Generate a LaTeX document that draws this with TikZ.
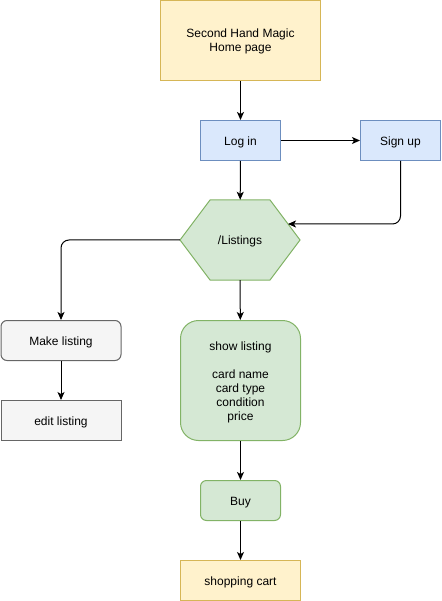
\documentclass[tikz,border=0pt]{standalone}
\usepackage{fontspec}
\setmainfont{Liberation Sans}
\usetikzlibrary{arrows.meta}
\definecolor{yfill}{HTML}{FFF2CC}\definecolor{ydraw}{HTML}{D6B656}
\definecolor{bfill}{HTML}{DAE8FC}\definecolor{bdraw}{HTML}{6C8EBF}
\definecolor{gfill}{HTML}{D5E8D4}\definecolor{gdraw}{HTML}{82B366}
\definecolor{wfill}{HTML}{F5F5F5}\definecolor{wdraw}{HTML}{666666}
\begin{document}
\begin{tikzpicture}[x=1pt,y=-1pt,
  every node/.style={font=\fontsize{12}{14}\selectfont, align=center, inner sep=0pt},
  single/.style={text height=12pt},
  box/.style={draw, line width=1pt, minimum width=#1, anchor=north west},
  yellowbox/.style={box=#1, fill=yfill, draw=ydraw},
  bluebox/.style={box=#1, fill=bfill, draw=bdraw, single},
  greenbox/.style={box=#1, fill=gfill, draw=gdraw},
  graybox/.style={box=#1, fill=wfill, draw=wdraw, single},
  conn/.style={draw=black, line width=1pt, -{Stealth[length=8pt,width=7pt,inset=2pt]}}]
\useasboundingbox (0,0) rectangle (441,601);
\node[yellowbox=160pt, minimum height=80pt] (home) at (160,0.5) {Second Hand Magic\\Home page};
\node[bluebox=80pt, minimum height=40pt] (login) at (200,120) {Log in};
\node[bluebox=80pt, minimum height=40pt] (signup) at (360,120) {Sign up};
% hexagon
\filldraw[fill=gfill, draw=gdraw, line width=1pt] (210,200) -- (270,200) -- (300,240) -- (270,280) -- (210,280) -- (180,240) -- cycle;
\node[minimum width=120pt, minimum height=80pt, single] (list) at (240,240) {/Listings};
\coordinate (listin) at (288,224);
\node[graybox=120pt, minimum height=40pt, rounded corners=6pt] (make) at (0.5,320) {Make listing};
\node[graybox=120pt, minimum height=40pt] (edit) at (0.5,400) {edit listing};
\node[greenbox=120pt, minimum height=120pt, rounded corners=18pt,
  label={[yshift=-2pt, align=center]center:show listing\\[14pt]card name\\card type\\condition\\price}] (show) at (180,320) {};
\node[greenbox=80pt, minimum height=40pt, rounded corners=6pt, single] (buy) at (200,480) {Buy};
\node[yellowbox=120pt, minimum height=40pt, single] (cart) at (180,560) {shopping cart};
\draw[conn] (home) -- (login);
\draw[conn] (login) -- (signup);
\draw[conn] (login) -- (list);
\draw[conn, rounded corners=8pt] (signup.south) |- (listin);
\draw[conn, rounded corners=8pt] (list.west) -| (make.north);
\draw[conn] (make) -- (edit);
\draw[conn] (list) -- (show);
\draw[conn] (show) -- (buy);
\draw[conn] (buy) -- (cart);
\end{tikzpicture}
\end{document}
